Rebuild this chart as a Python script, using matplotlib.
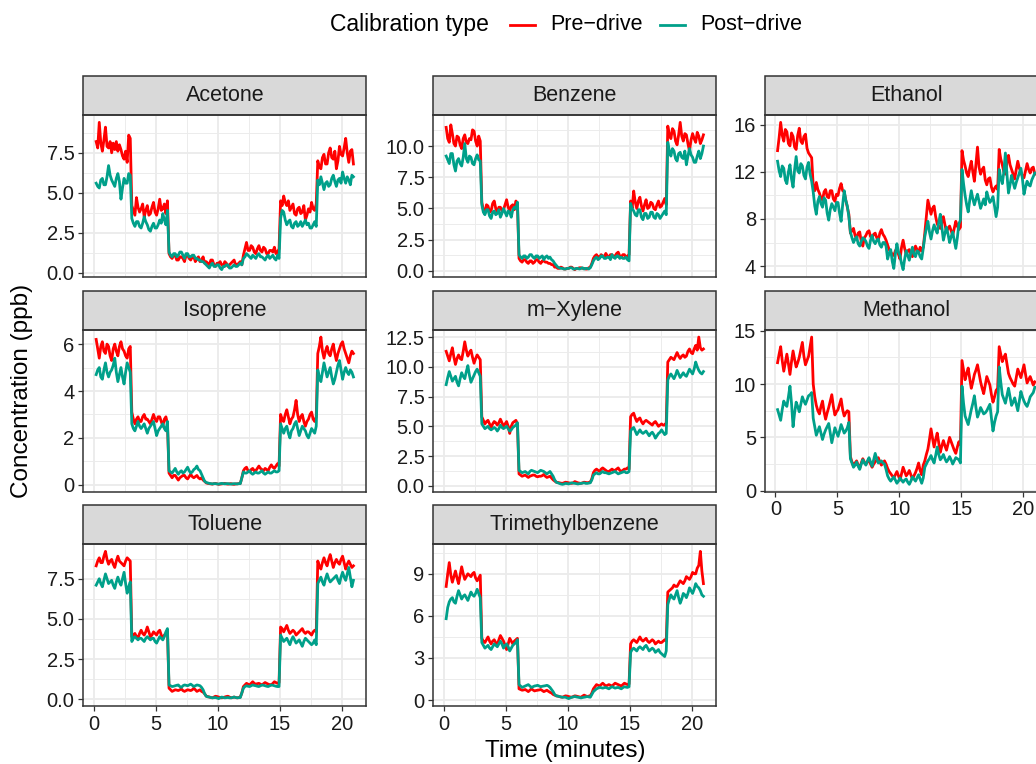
import numpy as np
import matplotlib
matplotlib.use("Agg")
import matplotlib.pyplot as plt
from matplotlib.lines import Line2D
from matplotlib.patches import Rectangle
from matplotlib.ticker import MultipleLocator, FormatStrFormatter

plt.rcParams['font.family'] = ['Liberation Sans', 'DejaVu Sans']

# ---------------- data ----------------
# sampling times (minutes), one reading every 7.5 s
time_min = np.round(np.arange(0.175, 21.0, 0.125), 3)

compounds = ["Acetone", "Benzene", "Ethanol", "Isoprene", "m\u2212Xylene",
             "Methanol", "Toluene", "Trimethylbenzene"]
calibration_types = ["Pre\u2212drive", "Post\u2212drive"]

acetone_pre = [
    8.2, 7.8, 9.4, 8.1, 7.6, 8.3, 9.1, 7.9, 7.8, 8.2, 7.5, 8.1, 7.7, 8.2, 7.6, 8.0, 7.7, 7.3, 7.1, 7.6, 6.9, 8.6, 8.4,
    4.2, 3.9, 3.6, 4.7, 4.1, 3.8, 4.0, 4.3, 3.5, 3.9, 4.2, 3.6, 3.7, 4.1, 4.4, 3.8, 3.6, 4.0, 4.6, 3.9, 4.0, 4.3, 3.7, 4.5,
    1.2, 1.0, 0.9, 1.1, 1.1, 0.8, 0.8, 1.0, 1.0, 0.9, 0.7, 1.1, 1.1, 0.9, 0.8, 1.0, 1.0, 0.7, 0.9, 1.0, 0.7, 0.8, 1.0, 0.6,
    0.7, 0.6, 0.5, 0.8, 0.8, 0.5, 0.4, 0.6, 0.6, 0.7, 0.5, 0.4, 0.7, 0.6, 0.4, 0.5, 0.6, 0.7, 0.8, 0.5, 0.5, 0.6, 0.7, 0.5,
    1.1, 1.5, 1.9, 1.4, 1.4, 1.7, 1.6, 1.3, 1.2, 1.5, 1.7, 1.4, 1.3, 1.6, 1.5, 1.2, 1.2, 1.4, 1.4, 1.3, 1.6, 1.2, 1.3, 1.5,
    4.5, 4.2, 4.8, 4.4, 4.2, 4.5, 3.9, 4.1, 4.3, 3.7, 3.6, 4.0, 4.1, 3.7, 3.8, 4.2, 3.3, 3.6, 4.0, 3.8, 4.4, 4.0, 3.9, 4.3,
    7.0, 6.6, 6.5, 7.2, 7.4, 6.8, 6.8, 7.5, 7.8, 7.2, 7.1, 7.6, 6.5, 7.0, 7.9, 7.4, 7.3, 7.8, 8.4, 7.5, 6.9, 7.6, 7.7, 6.8]
acetone_post = [
    5.6, 5.4, 5.3, 5.8, 5.9, 5.5, 5.5, 6.0, 6.7, 6.1, 5.8, 5.6, 5.4, 5.9, 6.2, 5.7, 4.6, 5.3, 5.9, 5.6, 5.6, 6.2, 6.1,
    3.4, 3.1, 2.9, 3.2, 3.2, 2.9, 2.8, 3.1, 3.5, 3.2, 3.0, 2.7, 2.6, 2.9, 3.1, 2.8, 2.8, 3.0, 3.3, 3.1, 3.7, 3.3, 3.0, 3.9,
    1.3, 1.1, 1.0, 1.2, 1.2, 1.0, 1.1, 1.3, 1.3, 1.1, 0.9, 1.2, 1.2, 1.0, 1.0, 1.1, 1.1, 0.9, 0.9, 0.8, 0.8, 0.7, 0.7, 0.6,
    0.5, 0.4, 0.3, 0.5, 0.6, 0.4, 0.4, 0.5, 0.5, 0.3, 0.2, 0.4, 0.4, 0.5, 0.5, 0.3, 0.3, 0.4, 0.5, 0.4, 0.4, 0.5, 0.6, 0.5,
    0.9, 1.0, 1.2, 1.1, 1.0, 0.9, 1.1, 1.0, 0.9, 1.1, 1.2, 1.0, 1.0, 0.9, 0.8, 1.0, 1.1, 0.9, 1.0, 1.1, 0.9, 0.8, 1.1, 0.9,
    3.4, 3.9, 3.8, 3.3, 3.0, 3.2, 3.3, 2.9, 2.8, 3.1, 3.2, 2.9, 3.0, 3.2, 2.9, 3.1, 3.3, 3.0, 3.1, 2.8, 2.8, 3.0, 3.2, 2.9,
    5.8, 5.5, 6.0, 5.6, 5.2, 5.6, 5.7, 5.4, 5.5, 5.9, 6.1, 5.7, 5.4, 5.8, 5.9, 5.6, 6.3, 5.9, 5.6, 6.0, 5.8, 5.5, 6.1, 6.0]

benzene_pre = [
    11.5, 10.6, 10.3, 11.7, 11.0, 10.2, 10.0, 10.8, 10.7, 10.1, 9.8, 10.6, 10.9, 10.3, 10.2, 10.6, 10.5, 11.3, 11.2, 10.4, 10.0, 10.8, 10.4,
    5.5, 4.9, 4.6, 5.3, 5.2, 4.7, 4.8, 5.4, 5.6, 5.0, 4.7, 5.1, 5.1, 4.8, 4.9, 5.3, 5.7, 5.1, 4.8, 5.2, 5.3, 4.9, 5.6, 5.4,
    1.0, 0.8, 0.7, 0.9, 0.9, 0.7, 0.6, 0.8, 0.8, 0.6, 0.7, 0.9, 0.9, 0.7, 0.6, 0.8, 0.8, 0.7, 0.7, 0.6, 0.6, 0.5, 0.5, 0.3,
    0.3, 0.2, 0.2, 0.3, 0.25, 0.15, 0.15, 0.2, 0.2, 0.3, 0.3, 0.2, 0.1, 0.2, 0.2, 0.25, 0.25, 0.2, 0.2, 0.15, 0.15, 0.25, 0.3, 0.6,
    1.0, 1.2, 1.3, 1.1, 1.1, 1.3, 1.2, 1.1, 1.4, 1.2, 1.1, 1.3, 1.3, 1.1, 1.2, 1.4, 1.5, 1.2, 1.1, 1.3, 1.3, 1.1, 1.2, 1.3,
    5.6, 5.0, 6.4, 5.5, 5.0, 5.6, 5.9, 5.2, 4.8, 5.3, 5.7, 5.0, 5.1, 5.5, 5.4, 5.0, 4.9, 5.3, 5.6, 5.1, 5.2, 5.5, 5.8, 5.3,
    11.6, 10.9, 10.6, 11.4, 11.2, 10.4, 10.1, 10.9, 11.9, 10.8, 10.4, 11.0, 10.9, 10.2, 9.6, 10.5, 11.0, 10.6, 10.3, 11.1, 10.8, 10.2, 10.5, 10.9]
benzene_post = [
    9.2, 8.9, 8.6, 9.4, 9.4, 8.5, 8.0, 8.8, 9.0, 8.6, 8.4, 9.1, 10.2, 9.0, 8.7, 9.2, 9.1, 8.6, 8.5, 9.0, 9.3, 8.9, 8.8,
    5.3, 4.7, 4.5, 4.9, 4.9, 4.4, 4.2, 4.7, 4.8, 4.5, 4.6, 4.9, 4.3, 4.6, 5.0, 4.7, 4.4, 4.8, 4.7, 4.3, 4.9, 5.1, 5.0, 5.5,
    1.3, 1.1, 1.0, 1.2, 1.2, 1.0, 1.1, 1.3, 1.3, 1.1, 1.0, 1.2, 1.2, 1.0, 1.1, 1.2, 0.9, 1.1, 1.2, 1.0, 1.1, 0.9, 0.8, 0.6,
    0.45, 0.3, 0.25, 0.2, 0.2, 0.15, 0.15, 0.2, 0.2, 0.25, 0.25, 0.15, 0.15, 0.2, 0.2, 0.15, 0.2, 0.25, 0.15, 0.2, 0.2, 0.15, 0.25, 0.5,
    0.8, 1.0, 1.1, 0.9, 1.0, 1.2, 1.2, 1.0, 1.0, 1.1, 1.1, 0.9, 1.3, 1.1, 1.0, 1.2, 1.2, 1.0, 1.1, 1.0, 1.0, 1.1, 0.9, 0.8,
    5.4, 5.0, 4.8, 4.5, 4.4, 4.9, 4.9, 4.3, 4.1, 4.6, 4.6, 4.2, 4.3, 4.7, 4.7, 4.3, 4.2, 4.6, 4.5, 4.2, 4.4, 4.6, 4.8, 4.5,
    10.3, 9.6, 9.2, 9.8, 9.6, 9.0, 8.8, 9.4, 9.5, 9.1, 9.0, 9.6, 8.5, 9.2, 9.8, 9.3, 9.1, 8.7, 8.7, 9.2, 9.6, 9.0, 9.4, 10.0]

ethanol_pre = [
    13.8, 14.9, 16.2, 15.1, 14.6, 15.6, 15.4, 14.4, 14.2, 15.3, 15.0, 14.1, 13.9, 15.1, 15.7, 14.6, 14.4, 15.0, 15.2, 14.0, 13.6, 13.4, 13.2,
    10.8, 10.4, 11.1, 10.5, 10.2, 9.8, 9.6, 10.3, 10.5, 9.9, 9.8, 10.4, 10.4, 9.7, 9.5, 10.1, 10.0, 10.6, 11.0, 10.4, 10.3, 9.6, 9.0, 8.4,
    6.8, 7.0, 7.2, 6.6, 6.3, 6.8, 6.9, 6.1, 5.7, 6.4, 6.6, 6.9, 7.0, 6.5, 6.4, 6.7, 6.8, 6.4, 6.2, 6.8, 7.1, 6.7, 6.5, 6.2,
    5.8, 5.4, 5.2, 5.0, 4.9, 5.3, 5.5, 5.0, 4.6, 5.6, 6.2, 5.5, 5.0, 5.3, 5.4, 5.0, 4.8, 5.2, 5.7, 5.4, 5.1, 5.6, 5.3, 5.6,
    6.8, 8.2, 9.6, 9.0, 8.4, 8.9, 9.1, 8.2, 7.6, 7.3, 7.2, 7.7, 8.2, 7.5, 6.9, 7.2, 7.4, 7.0, 6.6, 7.2, 7.8, 7.4, 7.1, 7.3,
    13.8, 13.0, 12.5, 11.9, 11.6, 12.3, 12.9, 12.0, 11.2, 12.6, 14.1, 12.4, 11.8, 12.2, 12.4, 11.3, 10.9, 11.4, 11.5, 10.7, 10.3, 10.6, 10.8, 10.5,
    13.9, 13.1, 12.6, 12.0, 11.8, 12.8, 13.4, 12.6, 12.2, 11.8, 11.4, 12.2, 12.9, 12.3, 12.0, 11.6, 11.5, 12.1, 12.7, 12.2, 11.9, 12.3, 12.4, 11.8]
ethanol_post = [
    12.9, 12.1, 11.6, 12.5, 12.3, 11.3, 11.0, 12.0, 12.6, 11.4, 10.7, 12.2, 13.3, 12.1, 11.9, 12.7, 12.5, 11.7, 11.4, 12.4, 12.8, 11.8, 11.2,
    10.3, 9.1, 8.4, 9.5, 9.9, 9.3, 9.0, 9.8, 9.6, 8.5, 7.9, 8.8, 9.3, 9.0, 8.7, 9.4, 9.4, 8.5, 7.8, 9.2, 10.4, 9.6, 9.1, 8.2,
    6.9, 6.4, 6.0, 6.3, 6.5, 5.9, 5.7, 6.1, 6.4, 6.3, 6.1, 5.7, 5.5, 6.2, 6.6, 6.1, 5.9, 6.2, 6.3, 5.8, 5.6, 6.0, 6.0, 5.7,
    4.6, 5.1, 5.4, 4.4, 3.8, 5.0, 5.9, 5.2, 4.9, 4.2, 3.7, 4.6, 5.3, 4.9, 4.5, 5.1, 5.6, 5.0, 4.8, 5.3, 5.2, 4.8, 4.6, 5.5,
    6.5, 7.2, 7.8, 6.9, 6.3, 7.0, 7.5, 7.1, 6.8, 7.7, 8.4, 7.3, 6.2, 6.8, 7.3, 6.7, 6.0, 6.5, 6.9, 6.2, 5.5, 6.4, 7.6, 7.9,
    12.2, 11.0, 10.0, 9.2, 8.6, 9.6, 10.4, 9.7, 9.2, 9.7, 10.1, 9.5, 8.9, 9.3, 9.7, 9.2, 10.3, 9.8, 9.4, 9.6, 9.9, 9.1, 8.2, 9.0,
    12.2, 11.5, 11.0, 12.0, 13.6, 11.8, 10.2, 10.9, 11.7, 11.1, 10.6, 11.1, 11.5, 11.9, 12.3, 11.4, 10.1, 10.7, 11.2, 10.9, 10.8, 11.3, 11.6, 11.9]

isoprene_pre = [
    6.2, 5.8, 5.4, 5.9, 6.1, 5.7, 5.6, 6.0, 5.9, 5.5, 5.3, 5.8, 6.0, 5.7, 5.5, 5.9, 6.1, 5.8, 5.7, 5.5, 5.4, 5.8, 5.9,
    3.1, 2.8, 2.6, 2.8, 2.9, 2.7, 2.7, 2.9, 3.0, 2.8, 2.8, 2.7, 2.6, 2.8, 3.0, 2.8, 2.7, 2.9, 2.9, 2.7, 2.5, 2.8, 2.9, 2.6,
    0.5, 0.4, 0.3, 0.4, 0.4, 0.3, 0.2, 0.3, 0.35, 0.4, 0.4, 0.3, 0.25, 0.35, 0.45, 0.35, 0.3, 0.35, 0.4, 0.3, 0.25, 0.3, 0.2, 0.15,
    0.08, 0.06, 0.05, 0.04, 0.03, 0.05, 0.06, 0.04, 0.02, 0.03, 0.04, 0.05, 0.06, 0.04, 0.03, 0.04, 0.05, 0.03, 0.02, 0.04, 0.04, 0.05, 0.06, 0.3,
    0.6, 0.7, 0.75, 0.6, 0.55, 0.65, 0.7, 0.6, 0.6, 0.7, 0.8, 0.7, 0.65, 0.6, 0.7, 0.65, 0.6, 0.75, 0.85, 0.75, 0.7, 0.8, 0.9, 0.8,
    3.0, 2.8, 2.7, 3.0, 3.2, 2.9, 2.6, 2.8, 2.9, 3.2, 3.6, 3.0, 2.7, 2.9, 3.0, 2.7, 2.5, 2.7, 2.8, 3.0, 3.1, 2.8, 2.7, 2.9,
    5.6, 5.9, 6.3, 5.7, 5.4, 5.7, 5.9, 5.6, 5.5, 5.8, 6.0, 5.6, 5.3, 5.6, 5.8, 6.0, 6.1, 5.8, 5.6, 5.4, 5.2, 5.5, 5.7, 5.6]
isoprene_post = [
    4.7, 4.9, 5.0, 4.6, 4.5, 4.9, 5.2, 4.8, 4.6, 4.8, 4.9, 5.1, 5.4, 4.8, 4.4, 4.7, 5.0, 4.6, 4.3, 4.8, 5.2, 5.0, 4.8,
    2.6, 2.4, 2.3, 2.5, 2.7, 2.5, 2.4, 2.5, 2.6, 2.4, 2.2, 2.4, 2.5, 2.6, 2.7, 2.4, 2.1, 2.3, 2.4, 2.5, 2.6, 2.4, 2.3, 2.7,
    0.6, 0.55, 0.5, 0.6, 0.7, 0.55, 0.45, 0.55, 0.6, 0.5, 0.55, 0.65, 0.75, 0.6, 0.5, 0.55, 0.65, 0.7, 0.8, 0.65, 0.6, 0.45, 0.3, 0.15,
    0.1, 0.08, 0.06, 0.05, 0.04, 0.05, 0.05, 0.04, 0.03, 0.05, 0.06, 0.05, 0.04, 0.05, 0.05, 0.04, 0.03, 0.04, 0.05, 0.04, 0.04, 0.05, 0.05, 0.3,
    0.55, 0.5, 0.5, 0.55, 0.6, 0.5, 0.45, 0.5, 0.55, 0.5, 0.5, 0.55, 0.6, 0.5, 0.45, 0.5, 0.55, 0.5, 0.5, 0.55, 0.6, 0.55, 0.55, 0.6,
    2.6, 2.4, 2.2, 2.4, 2.5, 2.2, 2.0, 2.3, 2.4, 2.6, 2.7, 2.4, 2.1, 2.3, 2.5, 2.4, 2.3, 2.1, 2.0, 2.2, 2.4, 2.3, 2.2, 2.5,
    4.9, 4.6, 4.4, 4.8, 5.2, 4.9, 4.6, 4.8, 5.0, 4.6, 4.3, 4.5, 4.8, 5.1, 5.3, 4.9, 4.5, 4.8, 5.0, 4.8, 4.7, 4.9, 4.8, 4.6]

xylene_pre = [
    11.3, 10.9, 10.5, 11.1, 11.6, 10.8, 10.2, 10.7, 11.0, 10.7, 10.6, 11.3, 12.1, 11.4, 10.9, 11.2, 11.4, 10.8, 10.3, 10.7, 11.0, 10.8, 10.6,
    5.8, 5.5, 5.2, 5.4, 5.5, 5.2, 4.9, 5.2, 5.4, 5.3, 5.1, 5.3, 5.6, 5.3, 5.0, 5.2, 5.4, 5.0, 4.4, 5.0, 5.3, 5.4, 5.5, 5.2,
    1.0, 0.9, 0.8, 0.85, 0.9, 0.8, 0.7, 0.8, 0.85, 0.9, 0.9, 0.8, 0.75, 0.8, 0.8, 0.85, 0.95, 0.8, 0.7, 0.75, 0.8, 0.65, 0.5, 0.4,
    0.3, 0.28, 0.25, 0.22, 0.2, 0.25, 0.3, 0.28, 0.25, 0.22, 0.2, 0.25, 0.35, 0.3, 0.25, 0.22, 0.2, 0.25, 0.3, 0.28, 0.25, 0.28, 0.3, 0.6,
    1.1, 1.3, 1.4, 1.3, 1.2, 1.4, 1.5, 1.4, 1.3, 1.2, 1.2, 1.3, 1.4, 1.3, 1.3, 1.4, 1.5, 1.3, 1.2, 1.3, 1.4, 1.4, 1.5, 1.4,
    5.8, 6.0, 6.1, 5.7, 5.4, 5.6, 5.7, 5.4, 5.2, 5.4, 5.5, 5.4, 5.3, 5.2, 5.1, 5.3, 5.4, 5.2, 5.0, 5.1, 5.2, 5.1, 5.1, 5.3,
    10.4, 10.6, 10.8, 10.7, 10.6, 10.9, 11.2, 10.9, 10.7, 10.9, 11.0, 10.8, 10.9, 11.3, 11.5, 11.2, 11.1, 11.5, 11.8, 11.4, 12.5, 11.6, 11.4, 11.5]
xylene_post = [
    8.5, 9.1, 9.6, 9.2, 8.8, 9.0, 9.2, 8.7, 8.4, 9.0, 9.5, 9.2, 9.0, 9.6, 10.1, 9.3, 8.7, 9.0, 9.3, 9.6, 9.8, 9.5, 9.2,
    5.2, 5.0, 4.8, 4.9, 5.0, 4.8, 4.7, 4.8, 4.9, 4.8, 4.6, 4.8, 5.1, 4.9, 4.8, 4.9, 5.0, 4.8, 4.6, 4.7, 4.9, 5.0, 5.1, 5.3,
    1.3, 1.2, 1.1, 1.15, 1.2, 1.1, 1.0, 1.2, 1.3, 1.25, 1.2, 1.15, 1.1, 1.2, 1.3, 1.25, 1.2, 1.1, 1.0, 1.1, 1.2, 1.0, 0.8, 0.5,
    0.3, 0.25, 0.2, 0.15, 0.12, 0.15, 0.2, 0.18, 0.15, 0.2, 0.25, 0.22, 0.2, 0.18, 0.15, 0.18, 0.2, 0.22, 0.25, 0.2, 0.2, 0.22, 0.25, 0.5,
    0.9, 1.0, 1.1, 1.0, 1.0, 1.1, 1.2, 1.1, 1.1, 1.05, 1.0, 1.05, 1.1, 1.15, 1.2, 1.1, 1.0, 1.05, 1.1, 1.15, 1.2, 1.1, 1.1, 1.2,
    4.6, 4.8, 4.9, 4.6, 4.3, 4.5, 4.7, 4.5, 4.4, 4.5, 4.6, 4.4, 4.2, 4.4, 4.5, 4.3, 4.0, 4.2, 4.4, 4.5, 4.7, 4.5, 4.3, 4.4,
    8.9, 9.2, 9.4, 9.2, 9.0, 9.3, 9.7, 9.4, 9.1, 9.3, 9.5, 9.3, 9.2, 9.5, 9.8, 9.6, 9.4, 9.8, 10.4, 10.0, 9.7, 9.5, 9.4, 9.6]

methanol_pre = [
    12.0, 12.8, 13.5, 12.2, 11.2, 12.0, 12.8, 11.9, 10.9, 12.1, 13.1, 12.3, 11.6, 12.0, 12.5, 13.2, 13.9, 12.6, 11.8, 12.2, 12.6, 13.5, 14.4,
    10.0, 8.8, 8.0, 7.5, 7.2, 7.9, 8.4, 7.4, 6.7, 7.3, 7.8, 8.4, 9.0, 7.9, 7.1, 7.4, 7.6, 8.1, 8.6, 7.6, 7.0, 7.3, 7.5, 7.4,
    3.2, 2.7, 2.3, 2.6, 2.8, 2.4, 2.1, 2.6, 3.0, 2.7, 2.5, 2.7, 2.9, 2.5, 2.2, 2.5, 2.7, 2.9, 3.1, 2.7, 2.4, 2.6, 2.8, 2.5,
    2.1, 1.8, 1.6, 1.4, 1.2, 1.5, 1.8, 1.4, 1.0, 1.6, 2.2, 1.8, 1.4, 1.6, 1.9, 1.5, 1.1, 1.4, 1.7, 2.1, 2.6, 1.9, 1.5, 2.4,
    2.8, 3.4, 3.9, 4.8, 5.8, 4.9, 4.1, 4.8, 5.4, 4.5, 3.6, 4.2, 4.7, 4.2, 3.8, 4.4, 5.0, 4.6, 4.2, 3.8, 3.5, 4.1, 4.6, 4.3,
    12.2, 11.3, 10.4, 11.0, 11.5, 10.5, 9.6, 10.2, 10.9, 11.3, 11.8, 11.0, 10.2, 9.6, 9.1, 9.9, 10.7, 10.3, 9.9, 9.0, 8.3, 8.8, 9.4, 9.6,
    13.5, 12.8, 12.1, 12.5, 12.8, 11.9, 11.0, 10.6, 10.3, 10.0, 9.8, 10.6, 11.4, 11.0, 10.6, 11.2, 11.8, 10.9, 10.1, 10.4, 10.7, 10.3, 9.9, 10.2]
methanol_post = [
    7.6, 7.1, 6.6, 7.6, 8.4, 8.1, 7.9, 8.8, 9.8, 8.2, 6.0, 7.3, 8.3, 7.9, 7.4, 8.1, 8.8, 8.4, 8.1, 8.5, 8.9, 9.0, 9.2,
    6.8, 6.0, 5.2, 5.6, 6.0, 5.4, 4.8, 5.3, 5.7, 6.0, 6.3, 5.4, 4.5, 5.2, 5.9, 5.5, 5.1, 5.6, 6.2, 5.8, 5.4, 5.6, 5.9, 6.4,
    3.0, 2.6, 2.2, 2.4, 2.7, 2.3, 2.0, 2.5, 2.9, 2.6, 2.4, 2.8, 3.1, 2.7, 2.3, 2.9, 3.5, 3.0, 2.6, 2.7, 2.8, 2.6, 2.5, 2.0,
    1.4, 1.1, 0.9, 1.1, 1.3, 1.0, 0.7, 0.9, 1.2, 1.0, 0.8, 1.0, 1.1, 0.8, 0.6, 0.9, 1.3, 1.1, 0.9, 1.2, 1.5, 1.1, 0.7, 1.2,
    2.2, 2.5, 2.8, 3.0, 3.3, 2.9, 2.6, 3.3, 4.1, 3.4, 2.9, 3.1, 3.4, 3.0, 2.7, 2.9, 3.2, 2.9, 2.5, 2.8, 3.1, 3.0, 2.9, 2.6,
    9.8, 8.2, 7.0, 6.6, 6.2, 6.9, 7.6, 8.2, 8.9, 7.8, 6.9, 7.3, 7.8, 7.5, 7.2, 7.3, 7.5, 7.8, 8.1, 6.8, 5.6, 6.4, 7.0, 7.4,
    11.6, 10.2, 9.0, 8.6, 8.2, 8.9, 9.6, 8.8, 8.0, 8.3, 8.7, 8.1, 7.5, 8.4, 9.3, 8.8, 8.4, 8.1, 7.9, 8.3, 8.8, 9.0, 9.2, 9.7]

toluene_pre = [
    8.3, 8.6, 8.8, 8.5, 8.5, 8.9, 9.2, 8.7, 8.4, 8.6, 8.7, 8.4, 8.2, 8.6, 8.9, 8.6, 8.5, 8.4, 8.3, 8.6, 8.8, 8.7, 8.6,
    3.9, 4.0, 4.1, 3.9, 3.8, 4.1, 4.3, 4.1, 4.0, 4.2, 4.5, 4.2, 3.9, 4.0, 4.2, 4.1, 4.0, 4.2, 4.3, 4.0, 3.8, 4.0, 4.1, 4.3,
    0.7, 0.6, 0.5, 0.55, 0.6, 0.58, 0.55, 0.6, 0.65, 0.55, 0.5, 0.55, 0.6, 0.58, 0.55, 0.6, 0.7, 0.6, 0.5, 0.55, 0.6, 0.5, 0.45, 0.35,
    0.2, 0.18, 0.15, 0.12, 0.1, 0.15, 0.2, 0.18, 0.15, 0.12, 0.1, 0.12, 0.15, 0.18, 0.2, 0.15, 0.1, 0.12, 0.15, 0.12, 0.1, 0.12, 0.15, 0.4,
    0.8, 0.9, 1.0, 0.95, 0.9, 1.0, 1.1, 1.0, 0.95, 0.98, 1.0, 0.95, 0.9, 0.98, 1.05, 1.0, 0.95, 0.92, 0.9, 1.0, 1.1, 1.05, 1.0, 1.05,
    4.5, 4.4, 4.2, 4.4, 4.6, 4.3, 4.1, 4.2, 4.3, 4.2, 4.0, 4.1, 4.2, 4.3, 4.4, 4.2, 4.1, 4.2, 4.2, 4.1, 4.0, 4.2, 4.3, 4.2,
    8.6, 8.3, 8.1, 8.5, 8.8, 8.5, 8.3, 8.7, 9.0, 8.6, 8.2, 8.5, 8.7, 8.5, 8.4, 8.7, 8.9, 8.5, 8.1, 8.4, 8.6, 8.4, 8.2, 8.3]
toluene_post = [
    7.1, 7.3, 7.5, 7.2, 7.0, 7.4, 7.8, 7.5, 7.2, 7.3, 7.4, 7.1, 6.9, 7.3, 7.6, 7.3, 7.1, 7.5, 7.9, 7.2, 6.6, 7.0, 7.3,
    3.6, 3.8, 3.9, 3.8, 3.7, 3.8, 3.8, 3.7, 3.6, 3.8, 3.9, 3.8, 3.7, 3.8, 3.8, 3.6, 3.5, 3.7, 3.9, 3.8, 3.7, 3.9, 4.2, 4.4,
    0.9, 0.85, 0.8, 0.82, 0.85, 0.88, 0.9, 0.8, 0.75, 0.85, 0.9, 0.88, 0.85, 0.9, 0.95, 0.88, 0.8, 0.85, 0.9, 0.88, 0.85, 0.75, 0.6, 0.35,
    0.2, 0.16, 0.15, 0.12, 0.1, 0.11, 0.12, 0.09, 0.05, 0.1, 0.15, 0.12, 0.1, 0.11, 0.12, 0.1, 0.1, 0.12, 0.15, 0.12, 0.1, 0.11, 0.12, 0.4,
    0.7, 0.8, 0.85, 0.82, 0.8, 0.85, 0.9, 0.87, 0.85, 0.82, 0.8, 0.85, 0.9, 0.88, 0.85, 0.82, 0.8, 0.85, 0.9, 0.88, 0.85, 0.82, 0.8, 0.8,
    4.0, 3.8, 3.6, 3.7, 3.8, 3.6, 3.4, 3.7, 3.9, 3.7, 3.5, 3.6, 3.7, 3.5, 3.3, 3.6, 3.8, 3.7, 3.6, 3.5, 3.4, 3.5, 3.7, 3.4,
    7.2, 7.4, 7.6, 7.3, 7.1, 7.5, 7.8, 7.5, 7.3, 7.4, 7.5, 7.6, 7.7, 7.4, 7.2, 7.6, 7.9, 7.6, 7.4, 7.8, 8.2, 7.6, 7.0, 7.4]

tmb_pre = [
    8.1, 9.0, 9.8, 8.9, 8.4, 8.8, 9.2, 8.7, 8.3, 8.9, 9.5, 9.0, 8.6, 8.8, 9.0, 8.9, 8.8, 9.0, 9.1, 8.7, 8.5, 8.7, 8.9,
    4.4, 4.2, 4.1, 4.3, 4.5, 4.2, 4.0, 4.2, 4.3, 4.1, 3.9, 4.3, 4.6, 4.4, 4.2, 3.9, 3.6, 4.0, 4.4, 4.2, 4.0, 4.2, 4.3, 4.4,
    0.8, 0.75, 0.7, 0.72, 0.75, 0.68, 0.6, 0.7, 0.8, 0.72, 0.65, 0.68, 0.7, 0.72, 0.75, 0.68, 0.6, 0.65, 0.7, 0.62, 0.55, 0.5, 0.4, 0.35,
    0.3, 0.28, 0.25, 0.22, 0.2, 0.25, 0.3, 0.28, 0.25, 0.22, 0.2, 0.25, 0.3, 0.28, 0.25, 0.22, 0.2, 0.28, 0.35, 0.3, 0.25, 0.28, 0.3, 0.5,
    0.8, 0.95, 1.1, 1.05, 1.0, 1.1, 1.2, 1.1, 1.0, 1.05, 1.1, 1.05, 1.0, 1.1, 1.2, 1.15, 1.1, 1.05, 1.0, 1.1, 1.2, 1.15, 1.1, 1.15,
    4.0, 4.2, 4.3, 4.2, 4.1, 4.3, 4.5, 4.3, 4.2, 4.3, 4.4, 4.2, 4.1, 4.2, 4.3, 4.2, 4.0, 4.1, 4.2, 4.1, 4.1, 4.2, 4.3, 4.2,
    7.7, 7.8, 7.9, 8.0, 8.2, 8.1, 8.1, 8.3, 8.5, 8.4, 8.3, 8.5, 8.8, 8.7, 8.6, 8.8, 9.1, 9.0, 9.0, 9.4, 9.6, 10.6, 9.2, 8.3]
tmb_post = [
    5.8, 6.6, 7.0, 7.2, 7.3, 7.0, 6.9, 7.4, 7.8, 7.5, 7.2, 7.4, 7.5, 7.3, 7.1, 7.4, 7.7, 7.5, 7.4, 7.6, 7.9, 7.6, 7.3,
    4.1, 3.9, 3.7, 3.8, 3.9, 3.7, 3.6, 3.8, 4.0, 3.9, 3.8, 4.0, 4.2, 4.0, 3.7, 3.9, 4.0, 3.8, 3.5, 3.7, 3.9, 4.0, 4.1, 4.3,
    1.1, 1.0, 0.9, 0.95, 1.0, 1.05, 1.1, 1.0, 0.9, 0.95, 1.0, 1.02, 1.05, 1.0, 0.95, 0.98, 1.0, 1.02, 1.05, 1.0, 0.9, 0.75, 0.6, 0.4,
    0.3, 0.28, 0.25, 0.22, 0.2, 0.2, 0.2, 0.15, 0.1, 0.15, 0.2, 0.22, 0.25, 0.22, 0.2, 0.18, 0.15, 0.18, 0.2, 0.22, 0.25, 0.22, 0.2, 0.4,
    0.6, 0.7, 0.8, 0.85, 0.9, 0.88, 0.85, 0.88, 0.9, 0.85, 0.8, 0.88, 0.95, 0.9, 0.85, 0.88, 0.9, 0.85, 0.8, 0.88, 0.95, 0.92, 0.9, 0.95,
    3.4, 3.6, 3.7, 3.6, 3.5, 3.7, 3.8, 3.7, 3.6, 3.8, 3.9, 3.7, 3.5, 3.6, 3.7, 3.6, 3.4, 3.5, 3.6, 3.4, 3.3, 3.2, 3.1, 3.5,
    6.8, 7.2, 7.5, 7.3, 7.2, 7.5, 7.8, 7.3, 6.9, 7.2, 7.6, 7.5, 7.3, 7.6, 8.0, 7.8, 7.6, 7.9, 8.3, 8.1, 8.0, 7.8, 7.5, 7.4]

pre_series = [acetone_pre, benzene_pre, ethanol_pre, isoprene_pre,
              xylene_pre, methanol_pre, toluene_pre, tmb_pre]
post_series = [acetone_post, benzene_post, ethanol_post, isoprene_post,
               xylene_post, methanol_post, toluene_post, tmb_post]

# y-axis break step and label decimals per facet
y_break_step = [2.5, 2.5, 4, 2, 2.5, 5, 2.5, 3]
y_label_decimals = [1, 1, 0, 0, 1, 0, 1, 0]
x_break_step = 5

# ---------------- styling ----------------
W, H = 1036, 764
DPI = 100
fig = plt.figure(figsize=(W / DPI, H / DPI), dpi=DPI)
fig.patch.set_facecolor("white")

col_colors = ["#FF0000", "#00A08A"]
frame_col = "#333333"
grid_col = "#EBEBEB"
strip_fill = "#D9D9D9"

col_left = [83.3, 433.3, 764.7]
panel_w = 283.0
panel_bottom = [277.0, 491.7, 706.0]
panel_h = 162.0
strip_h = 39.0


def px_rect(x0, ybottom, w, h):
    return [x0 / W, 1 - ybottom / H, w / W, h / H]


n_cols = 3
for i, name in enumerate(compounds):
    r, c = divmod(i, n_cols)
    ax = fig.add_axes(px_rect(col_left[c], panel_bottom[r], panel_w, panel_h))
    pre = np.array(pre_series[i], dtype=float)
    post = np.array(post_series[i], dtype=float)
    ax.plot(time_min, pre, color=col_colors[0], lw=2.0, solid_joinstyle="round", zorder=3)
    ax.plot(time_min, post, color=col_colors[1], lw=2.0, solid_joinstyle="round", zorder=4)

    # ggplot-like 5% expansion
    allv = np.concatenate([pre, post])
    ymin, ymax = allv.min(), allv.max()
    yr = ymax - ymin
    ax.set_ylim(ymin - 0.05 * yr, ymax + 0.05 * yr)
    tr = time_min.max() - time_min.min()
    ax.set_xlim(time_min.min() - 0.05 * tr, time_min.max() + 0.05 * tr)

    ax.xaxis.set_major_locator(MultipleLocator(x_break_step))
    ax.xaxis.set_minor_locator(MultipleLocator(x_break_step / 2))
    ax.yaxis.set_major_locator(MultipleLocator(y_break_step[i]))
    ax.yaxis.set_minor_locator(MultipleLocator(y_break_step[i] / 2))
    ax.yaxis.set_major_formatter(FormatStrFormatter("%%.%df" % y_label_decimals[i]))

    ax.grid(which="major", color=grid_col, lw=1.3, zorder=0)
    ax.grid(which="minor", color=grid_col, lw=0.65, zorder=0)
    ax.set_axisbelow(True)

    for sp in ax.spines.values():
        sp.set_color(frame_col)
        sp.set_linewidth(1.1)
        sp.set_zorder(6)

    ax.tick_params(which="major", direction="out", length=3.8, width=0.9,
                   color=frame_col, labelsize=14.5, labelcolor="#1A1A1A", pad=2.5)
    ax.tick_params(which="minor", length=0)

    # x-axis labels only on the bottom panel of each column
    bottom_of_col = (i + n_cols >= len(compounds))
    if not bottom_of_col:
        ax.tick_params(axis="x", which="major", length=0, labelbottom=False)

    # facet strip
    sh = strip_h / panel_h
    ax.add_patch(Rectangle((0, 1), 1, sh, transform=ax.transAxes, facecolor=strip_fill,
                           edgecolor=frame_col, lw=1.1, clip_on=False, zorder=5))
    ax.text(0.5, 1 + sh / 2, name, transform=ax.transAxes, ha="center", va="center",
            fontsize=15.5, color="#1A1A1A", zorder=6)

# axis titles
fig.text(565.5 / W, 1 - 751 / H, "Time (minutes)", ha="center", va="center",
         fontsize=17.5, color="black")
fig.text(22 / W, 1 - 391 / H, "Concentration (ppb)", ha="center", va="center",
         rotation=90, fontsize=17.5, color="black")

# legend (top, horizontal)
ly = 1 - 25 / H
fig.text(330 / W, ly, "Calibration type", ha="left", va="center", fontsize=16.5, color="black")
key_x = [(510, 535), (660, 685)]
lab_x = [550, 700]
for k in range(2):
    fig.add_artist(Line2D([key_x[k][0] / W, key_x[k][1] / W], [ly, ly],
                          transform=fig.transFigure, color=col_colors[k], lw=2.0))
    fig.text(lab_x[k] / W, ly, calibration_types[k], ha="left", va="center",
             fontsize=15.5, color="black")

fig.savefig("out.png", dpi=DPI, facecolor="white")
